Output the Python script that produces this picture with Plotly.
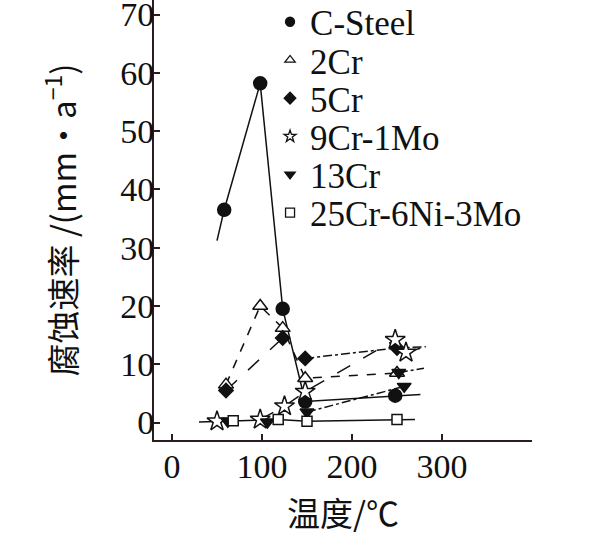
import plotly.graph_objects as go

# ---- data ----
series_names = ["C-Steel", "2Cr", "5Cr", "9Cr-1Mo", "13Cr", "25Cr-6Ni-3Mo"]

# measured points (temperature °C, corrosion rate mm/a)
csteel_x = [58, 98, 123, 148, 248]
csteel_y = [36.5, 58.2, 19.5, 3.6, 4.6]
cr2_x = [60, 98, 123, 148, 250]
cr2_y = [6.5, 20.0, 16.2, 7.6, 8.5]
cr5_x = [60, 123, 148, 250]
cr5_y = [5.5, 14.5, 11.0, 12.8]
cr9_x = [50, 98, 125, 148, 248, 260]
cr9_y = [0.2, 0.5, 2.8, 5.3, 14.2, 12.0]
cr13_x = [62, 106, 150, 252, 258]
cr13_y = [0.2, 0.1, 1.8, 8.6, 6.2]
cr25_x = [68, 118, 150, 250]
cr25_y = [0.3, 0.5, 0.2, 0.5]

# drawn trend lines (segments, None = gap)
csteel_line_x = [50, 58, 98, 123, 148, 248, 276]
csteel_line_y = [31.2, 36.5, 58.2, 19.5, 3.6, 4.6, 4.8]
cr2_line_x = [60, 98, 123, 148, 250]
cr2_line_y = [6.5, 20.0, 16.2, 7.6, 8.5]
cr5_line_a_x = [60, 123]
cr5_line_a_y = [5.5, 14.5]
cr5_line_b_x = [148, 250, 282]
cr5_line_b_y = [11.0, 12.8, 13.0]
cr9_line_x = [98, 125, 148, 248, None, 260, 282]
cr9_line_y = [0.5, 2.8, 5.3, 14.2, None, 12.0, 13.0]
cr13_line_x = [150, 258, None, 252, 280]
cr13_line_y = [1.8, 6.2, None, 8.6, 9.3]
cr25_line_x = [30, 68, 118, 150, 250, 270]
cr25_line_y = [0.1, 0.3, 0.5, 0.2, 0.5, 0.5]

x_ticks = [0, 100, 200, 300]
y_ticks = [0, 10, 20, 30, 40, 50, 60, 70]

INK = "#111111"
AXIS = "#2b1d1d"
SERIF = "Liberation Serif"
CJK = "Noto Sans CJK SC"

fig = go.Figure()

lines = [
    (csteel_line_x, csteel_line_y, "solid"),
    (cr2_line_x, cr2_line_y, "dash"),
    (cr5_line_a_x, cr5_line_a_y, "longdash"),
    (cr5_line_b_x, cr5_line_b_y, "dashdot"),
    (cr9_line_x, cr9_line_y, "longdash"),
    (cr13_line_x, cr13_line_y, "dashdot"),
    (cr25_line_x, cr25_line_y, "solid"),
]
for lx, ly, dash in lines:
    fig.add_trace(go.Scatter(x=lx, y=ly, mode="lines", showlegend=False,
                             line=dict(color=INK, width=1.5, dash=dash),
                             hoverinfo="skip"))

styles = [
    ("circle", INK, 13),
    ("triangle-up", "white", 13),
    ("diamond", INK, 11),
    ("star", "white", 15),
    ("triangle-down", INK, 12),
    ("square", "white", 10),
]
points = [(csteel_x, csteel_y), (cr2_x, cr2_y), (cr5_x, cr5_y),
          (cr9_x, cr9_y), (cr13_x, cr13_y), (cr25_x, cr25_y)]

for name, (px, py), (sym, fill, size) in zip(series_names, points, styles):
    fig.add_trace(go.Scatter(x=px, y=py, mode="markers", name=name, showlegend=False,
                             marker=dict(symbol=sym, color=fill, size=size,
                                         line=dict(color=INK, width=1.5))))

# one small legend per entry, so the rows can be spaced as tightly as in the reference
legend_ids = ["legend", "legend2", "legend3", "legend4", "legend5", "legend6"]
for i, (name, (sym, fill, size)) in enumerate(zip(series_names, styles)):
    fig.add_trace(go.Scatter(x=[None], y=[None], mode="markers", name=name,
                             legend=legend_ids[i],
                             marker=dict(symbol=sym, color=fill, size=9,
                                         line=dict(color=INK, width=1.3))))

row0, row_step = 0.950, 0.0868
legend_layout = {}
for i, lid in enumerate(legend_ids):
    legend_layout[lid] = dict(x=0.307, y=row0 - i * row_step, xanchor="left", yanchor="middle",
                              font=dict(family=SERIF, size=35, color=INK),
                              bgcolor="rgba(0,0,0,0)", itemsizing="trace")

fig.update_layout(
    width=604, height=540,
    margin=dict(l=154, r=72, t=0, b=100, autoexpand=False),
    paper_bgcolor="white", plot_bgcolor="white",
    font=dict(family=SERIF, color=INK),
    xaxis=dict(range=[-20, 400], tickvals=x_ticks, ticktext=[str(v) for v in x_ticks],
               ticks="inside", ticklen=6, tickwidth=1.5, tickcolor=AXIS,
               showline=True, linecolor=AXIS, linewidth=2,
               showgrid=False, zeroline=False, automargin=False,
               ticklabeloverflow="allow", ticklabelstandoff=-5,
               tickfont=dict(family=SERIF, size=34, color=INK),
               title=dict(text="温度/℃", font=dict(family=CJK, size=33, color=INK),
                          standoff=19)),
    yaxis=dict(range=[-3, 72.5], tickvals=y_ticks, ticktext=[str(v) for v in y_ticks],
               ticks="inside", ticklen=6, tickwidth=1.5, tickcolor=AXIS,
               showline=True, linecolor=AXIS, linewidth=2,
               showgrid=False, zeroline=False, automargin=False,
               ticklabeloverflow="allow", ticklabelstandoff=-9,
               tickfont=dict(family=SERIF, size=34, color=INK),
               title=dict(text="腐蚀速率 /(mm·a<sup>−1</sup>)",
                          font=dict(family=CJK, size=33, color=INK),
                          standoff=34)),
    **legend_layout,
)

fig.write_html("out.html", config={"displayModeBar": False},
               post_script="document.body.style.margin='0';")
